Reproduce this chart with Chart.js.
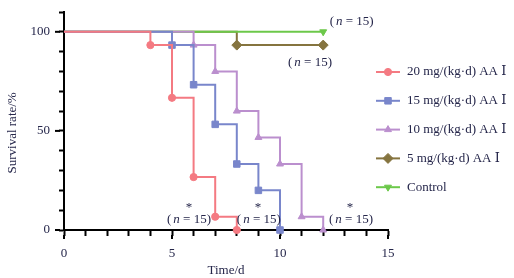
<!DOCTYPE html>
<html>
<head>
<meta charset="utf-8">
<script src="https://cdn.jsdelivr.net/npm/chart.js@4.4.1/dist/chart.umd.min.js"></script>
<style>
  html, body { margin: 0; padding: 0; background: #fff; }
  #wrap { width: 514px; height: 278px; }
</style>
</head>
<body>
<div id="wrap"><canvas id="survival"></canvas></div>
<script>
// survival after AA I dosing, one step curve per group

const groupNames = ['20 mg/(kg·d) AA Ⅰ', '15 mg/(kg·d) AA Ⅰ', '10 mg/(kg·d) AA Ⅰ', '5 mg/(kg·d) AA Ⅰ', 'Control']

const days20 = [0, 4, 5, 6, 7, 8]
const surv20 = [100, 93.3, 66.7, 26.7, 6.7, 0]
const days15 = [0, 5, 6, 7, 8, 9, 10]
const surv15 = [100, 93.3, 73.3, 53.3, 33.3, 20, 0]
const days10 = [0, 6, 7, 8, 9, 10, 11, 12]
const surv10 = [100, 93.3, 80, 60, 46.7, 33.3, 6.7, 0]
const days5 = [0, 8, 12]
const surv5 = [100, 93.3, 93.3]
const daysCtrl = [0, 12]
const survCtrl = [100, 100]

const xTickLabels = [0, 5, 10, 15]
const yTickLabels = [0, 50, 100]

const serif = '"Liberation Serif", "DejaVu Serif", serif'
const textColor = '#25264a'

function pts(xs, ys) {
  return xs.map((x, i) => ({ x: x, y: ys[i] }))
}

// colour, marker, marker size, draw order
const looks = [
  { color: '#f47a82', style: 'circle', r: 3.6, rot: 0, order: 1 },
  { color: '#7986cb', style: 'rect', r: 4.6, rot: 0, order: 2 },
  { color: '#bb8fce', style: 'triangle', r: 4, rot: 0, order: 3 },
  { color: '#85743f', style: 'rectRot', r: 5, rot: 0, order: 5 },
  { color: '#6cc84a', style: 'triangle', r: 4, rot: 180, order: 4 },
]
const series = [pts(days20, surv20), pts(days15, surv15), pts(days10, surv10), pts(days5, surv5), pts(daysCtrl, survCtrl)]

const datasets = series.map((data, i) => ({
  label: groupNames[i],
  data: data,
  order: looks[i].order,
  borderColor: looks[i].color,
  backgroundColor: looks[i].color,
  borderWidth: 2,
  stepped: true,
  tension: 0,
  clip: false,
  pointStyle: looks[i].style,
  pointRotation: looks[i].rot,
  pointBorderWidth: 1,
  pointRadius: c => c.dataIndex === 0 ? 0 : looks[i].r,
  pointHoverRadius: c => c.dataIndex === 0 ? 0 : looks[i].r,
}))

function nLabel(ctx, x, y) {
  ctx.textAlign = 'left'
  ctx.textBaseline = 'middle'
  ctx.font = '13px ' + serif
  ctx.fillText('(', x, y)
  x += ctx.measureText('(').width + 2
  ctx.font = 'italic 13px ' + serif
  ctx.fillText('n', x, y)
  x += ctx.measureText('n').width
  ctx.font = '13px ' + serif
  ctx.fillText(' = 15)', x, y)
}

const extras = {
  id: 'extras',
  afterDraw(chart) {
    const ctx = chart.ctx
    const xs = chart.scales.x
    const ys = chart.scales.y
    ctx.save()

    // longer ticks at labelled values
    ctx.strokeStyle = '#000'
    ctx.lineWidth = 2
    yTickLabels.forEach(v => {
      const py = ys.getPixelForValue(v)
      ctx.beginPath(); ctx.moveTo(xs.left - 9, py); ctx.lineTo(xs.left - 4, py); ctx.stroke()
    })
    xTickLabels.forEach(v => {
      const px = xs.getPixelForValue(v)
      ctx.beginPath(); ctx.moveTo(px, ys.bottom + 5); ctx.lineTo(px, ys.bottom + 9); ctx.stroke()
    })

    // y title
    ctx.fillStyle = textColor
    ctx.font = '13px ' + serif
    ctx.translate(13, (ys.getPixelForValue(0) + ys.getPixelForValue(100)) / 2 + 2)
    ctx.rotate(-Math.PI / 2)
    ctx.textAlign = 'center'
    ctx.textBaseline = 'middle'
    ctx.fillText('Survival rate/%', 0, 0)
    ctx.setTransform(1, 0, 0, 1, 0, 0)

    // group sizes and significance marks
    const nAt = [[12.3, 105.1], [10.37, 84.5], [4.77, 5.5], [8.0, 5.5], [12.27, 5.5]]
    nAt.forEach(p => nLabel(ctx, xs.getPixelForValue(p[0]), ys.getPixelForValue(p[1])))
    const starAt = [5.79, 8.98, 13.24]
    ctx.font = '13px ' + serif
    ctx.textAlign = 'center'
    starAt.forEach(v => ctx.fillText('*', xs.getPixelForValue(v), ys.getPixelForValue(11.5)))

    // legend: short line with marker
    groupNames.forEach((name, i) => {
      const ly = 72 + i * 28.8
      const lk = looks[i]
      ctx.strokeStyle = lk.color
      ctx.fillStyle = lk.color
      ctx.lineWidth = 2
      ctx.beginPath(); ctx.moveTo(376, ly); ctx.lineTo(400, ly); ctx.stroke()
      ctx.lineWidth = 1
      Chart.helpers.drawPoint(ctx, { pointStyle: lk.style, radius: lk.r, rotation: lk.rot, borderWidth: 1 }, 388, ly)
      ctx.fillStyle = textColor
      ctx.font = '13px ' + serif
      ctx.textAlign = 'left'
      ctx.textBaseline = 'middle'
      ctx.fillText(name, 407, ly)
    })
    ctx.restore()
  }
}

const sctx = document.getElementById('survival').getContext('2d')
const survivalChart = new Chart(sctx, {
  type: 'line',
  data: { datasets: datasets },
  plugins: [extras],
  options: {
    responsive: true,
    maintainAspectRatio: false,
    animation: false,
    layout: { padding: { top: 12, right: 126, left: 0, bottom: 0 } },
    plugins: {
      legend: { display: false },
      tooltip: { enabled: false },
    },
    scales: {
      x: {
        type: 'linear',
        min: 0,
        max: 15,
        afterFit: s => { s.height = 48 },
        border: { color: '#000', width: 2 },
        grid: { drawOnChartArea: false, drawTicks: true, tickLength: 6, tickColor: '#000', tickWidth: 2 },
        ticks: {
          stepSize: 1,
          autoSkip: false,
          maxRotation: 0,
          padding: 10,
          color: textColor,
          font: { family: serif, size: 13 },
          callback: v => xTickLabels.includes(v) ? String(v) : '',
        },
        title: { display: true, text: 'Time/d', color: textColor, font: { family: serif, size: 13 }, padding: 0 },
      },
      y: {
        min: 0,
        max: 110,
        afterFit: s => { s.width = 64; s.paddingTop = 0; s.paddingBottom = 0 },
        border: { color: '#000', width: 2 },
        grid: { drawOnChartArea: false, drawTicks: true, tickLength: 5, tickColor: '#000', tickWidth: 2 },
        ticks: {
          stepSize: 10,
          autoSkip: false,
          padding: 9,
          color: textColor,
          font: { family: serif, size: 13 },
          callback: v => yTickLabels.includes(v) ? String(v) : '',
        },
      },
    },
  },
})
</script>
</body>
</html>
